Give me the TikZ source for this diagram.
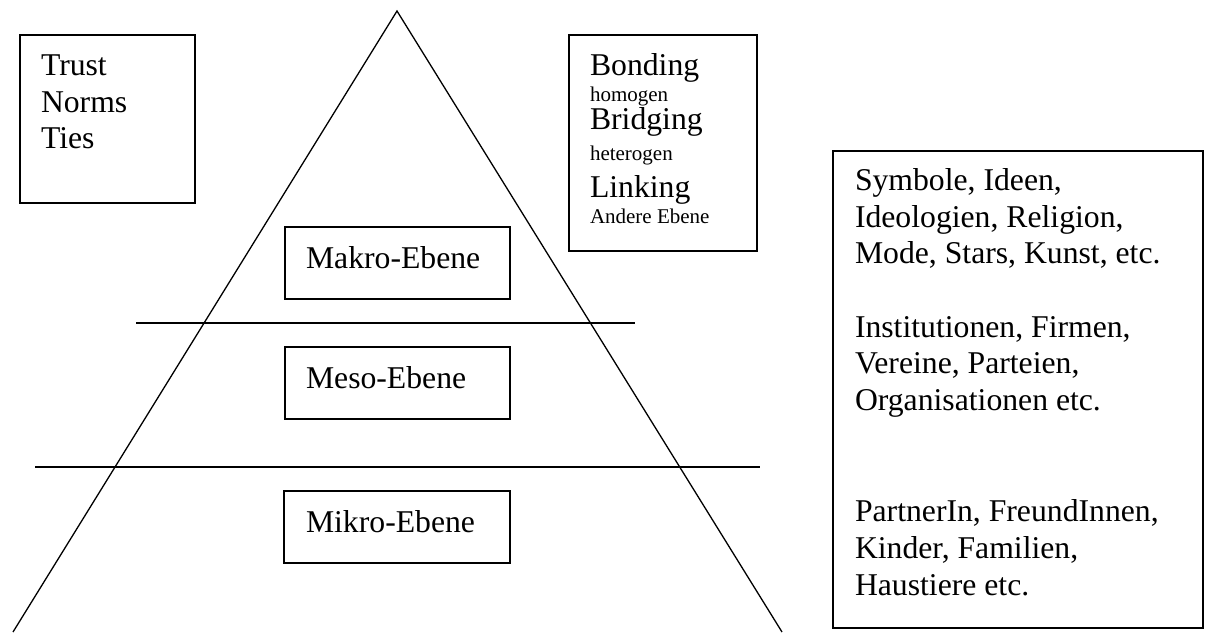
\documentclass[tikz,border=0pt]{standalone}
\usepackage{fontspec}
\setmainfont{Liberation Serif}
\begin{document}
\begin{tikzpicture}[x=1pt,y=-1pt,
  every node/.style={inner sep=0pt,outer sep=0pt},
  ln/.style={line width=1.3pt,black},
  frame/.style={draw,line width=1.3pt,rectangle,anchor=north west},
  big/.style={anchor=base west,font=\fontsize{31.7}{36.5}\selectfont},
  small/.style={anchor=base west,font=\fontsize{21}{24}\selectfont}]
\useasboundingbox (0,0) rectangle (1207,633);
% pyramid
\coordinate (apex) at (397,11);
\coordinate (bl) at (13,632);
\coordinate (br) at (782,632);
\draw[ln,line join=miter] (bl) -- (apex) -- (br);
\coordinate (l1a) at (136,323);
\coordinate (l1b) at (635,323);
\coordinate (l2a) at (35,467);
\coordinate (l2b) at (760,467);
\draw[ln] (l1a) -- (l1b);
\draw[ln] (l2a) -- (l2b);
% level boxes
\node[frame,minimum width=225,minimum height=72] (makro) at (285,227) {};
\node[big] (makrot) at (306,268) {Makro-Ebene};
\node[frame,minimum width=225,minimum height=72] (meso) at (285,347) {};
\node[big] (mesot) at (306,388) {Meso-Ebene};
\node[frame,minimum width=226,minimum height=72] (mikro) at (284,491) {};
\node[big] (mikrot) at (306,532) {Mikro-Ebene};
% trust box
\node[frame,minimum width=175,minimum height=168] (trust) at (20,35) {};
\node[big] (t1) at (41,75) {Trust};
\node[big] (t2) at (41,112) {Norms};
\node[big] (t3) at (41,148) {Ties};
% bonding box
\node[frame,minimum width=188,minimum height=216] (bond) at (569,35) {};
\node[big] (b1) at (590,75) {Bonding};
\node[small] (b2) at (590,101) {homogen};
\node[big] (b3) at (590,129.5) {Bridging};
\node[small] (b4) at (590,160) {heterogen};
\node[big] (b5) at (590,197) {Linking};
\node[small] (b6) at (590,223) {Andere Ebene};
% right box
\node[frame,minimum width=370,minimum height=477] (right) at (833,151) {};
\node[big] (r1) at (855,190) {Symbole, Ideen,};
\node[big] (r2) at (855,227) {Ideologien, Religion,};
\node[big] (r3) at (855,263) {Mode, Stars, Kunst, etc.};
\node[big] (r4) at (855,337) {Institutionen, Firmen,};
\node[big] (r5) at (855,373) {Vereine, Parteien,};
\node[big] (r6) at (855,410) {Organisationen etc.};
\node[big] (r7) at (855,521) {PartnerIn, FreundInnen,};
\node[big] (r8) at (855,558) {Kinder, Familien,};
\node[big] (r9) at (855,595) {Haustiere etc.};
\end{tikzpicture}
\end{document}
